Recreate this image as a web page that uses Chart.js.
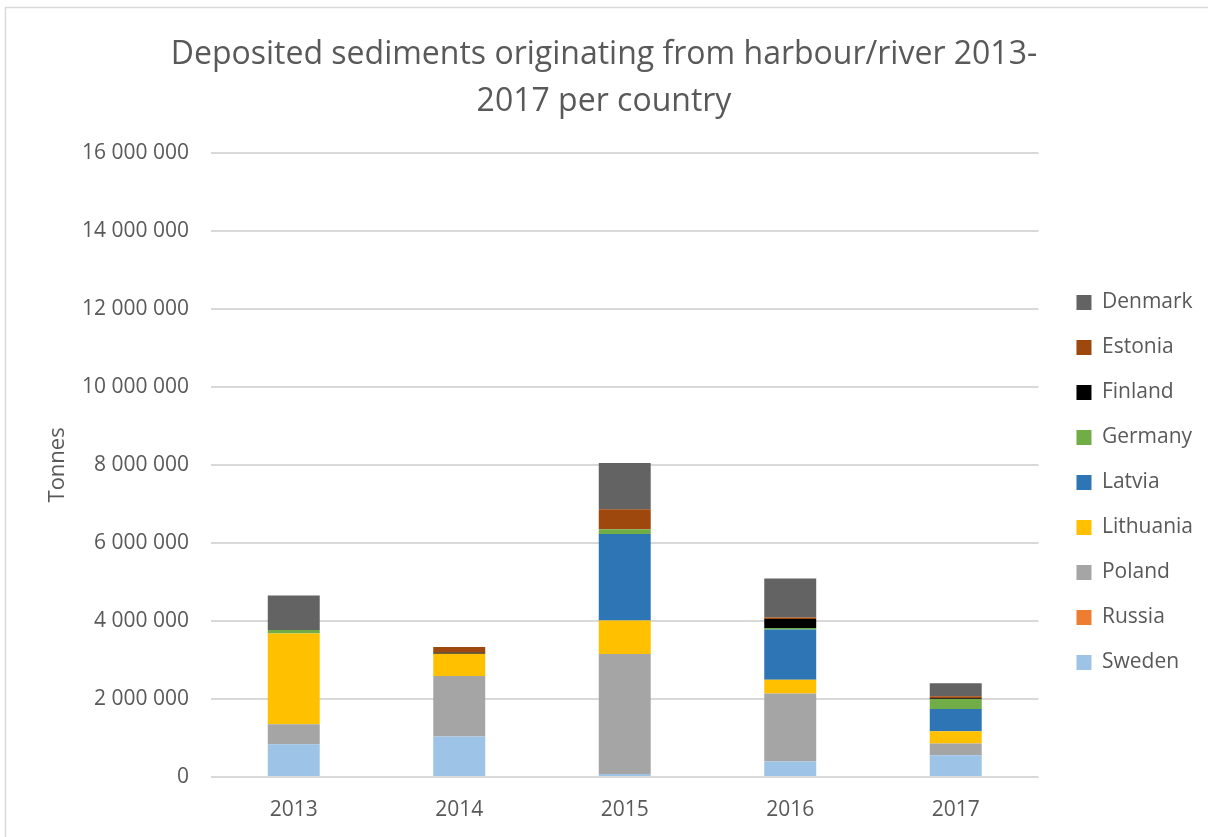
<!DOCTYPE html>
<html>
<head>
<meta charset="utf-8">
<script src="https://cdn.jsdelivr.net/npm/chart.js@4/dist/chart.umd.min.js"></script>
<style>
  html, body { margin: 0; padding: 0; background: #ffffff; }
  #wrap { width: 1208px; height: 837px; }
</style>
</head>
<body>
<div id="wrap"><canvas id="c" width="1208" height="837"></canvas></div>
<script>
const titleLines = ['Deposited sediments originating from harbour/river 2013-', '2017 per country'];
const yAxisTitle = 'Tonnes';
const years = ['2013', '2014', '2015', '2016', '2017'];
const yTicks = [0, 2000000, 4000000, 6000000, 8000000, 10000000, 12000000, 14000000, 16000000];

const sweden    = [840000, 1040000, 80000, 400000, 560000];
const russia    = [0, 0, 0, 0, 0];
const poland    = [510000, 1550000, 3070000, 1740000, 300000];
const lithuania = [2330000, 570000, 860000, 350000, 310000];
const latvia    = [0, 0, 2220000, 1290000, 570000];
const germany   = [90000, 0, 120000, 40000, 260000];
const finland   = [0, 30000, 0, 230000, 20000];
const estonia   = [0, 140000, 510000, 40000, 50000];
const denmark   = [880000, 0, 1190000, 1000000, 330000];

const seriesNames = ['Sweden', 'Russia', 'Poland', 'Lithuania', 'Latvia', 'Germany', 'Finland', 'Estonia', 'Denmark'];
const seriesValues = [sweden, russia, poland, lithuania, latvia, germany, finland, estonia, denmark];
const seriesColors = ['#9DC3E6', '#ED7D31', '#A5A5A5', '#FFC000', '#2E75B6', '#70AD47', '#000000', '#9E480E', '#636363'];

const FONT = "'Open Sans', 'Liberation Sans', sans-serif";
const TEXT = '#595959';
const LEGEND_SHIFT = 14;

function fmt(v) {
  return String(v).replace(/\B(?=(\d{3})+(?!\d))/g, ' ');
}

const borderPlugin = {
  id: 'outerBorder',
  beforeDraw(chart) {
    const ctx = chart.ctx;
    ctx.save();
    ctx.fillStyle = '#ffffff';
    ctx.fillRect(0, 0, chart.width, chart.height);
    ctx.strokeStyle = '#d9d9d9';
    ctx.lineWidth = 1.5;
    ctx.strokeRect(5.5, 7.5, chart.width + 10, chart.height + 10);
    ctx.restore();
  }
};

const legendShiftPlugin = {
  id: 'legendShift',
  afterLayout(chart) {
    if (chart.legend) {
      chart.legend.left += LEGEND_SHIFT;
      chart.legend.right += LEGEND_SHIFT;
    }
  }
};

new Chart(document.getElementById('c'), {
  type: 'bar',
  data: {
    labels: years,
    datasets: seriesNames.map((n, i) => ({
      label: n,
      data: seriesValues[i],
      backgroundColor: seriesColors[i],
      borderWidth: 0,
      categoryPercentage: 1.0,
      barPercentage: 0.314
    }))
  },
  options: {
    responsive: false,
    animation: false,
    layout: { padding: { left: 19, right: 19, top: 0, bottom: 0 } },
    plugins: {
      title: {
        display: true,
        text: titleLines,
        color: TEXT,
        font: { family: FONT, size: 32, weight: 'normal', lineHeight: 1.45 },
        padding: { top: 32, bottom: 28 }
      },
      legend: {
        display: true,
        position: 'right',
        align: 'start',
        reverse: true,
        title: {
          display: true,
          text: '',
          font: { size: 10, lineHeight: 1 },
          padding: { top: 258, bottom: 0 }
        },
        labels: {
          color: TEXT,
          font: { family: FONT, size: 21 },
          boxWidth: 15,
          boxHeight: 15,
          padding: 24
        }
      },
      tooltip: { enabled: false }
    },
    scales: {
      x: {
        stacked: true,
        afterFit(scale) { scale.height = 60; },
        grid: { display: false, drawTicks: false },
        border: { display: false },
        ticks: { color: TEXT, font: { family: FONT, size: 21 }, padding: 20 }
      },
      y: {
        stacked: true,
        min: 0,
        max: 16000000,
        afterFit(scale) { scale.width = 192; },
        afterBuildTicks(scale) { scale.ticks = yTicks.map(v => ({ value: v })); },
        grid: { color: '#d9d9d9', lineWidth: 2, drawTicks: false },
        border: { display: false },
        ticks: {
          color: TEXT,
          font: { family: FONT, size: 21 },
          padding: 22,
          callback: (v) => fmt(v)
        },
        title: {
          display: true,
          text: yAxisTitle,
          color: TEXT,
          font: { family: FONT, size: 22 },
          padding: { top: 26, bottom: 0 }
        }
      }
    }
  },
  plugins: [borderPlugin, legendShiftPlugin]
});
</script>
</body>
</html>
